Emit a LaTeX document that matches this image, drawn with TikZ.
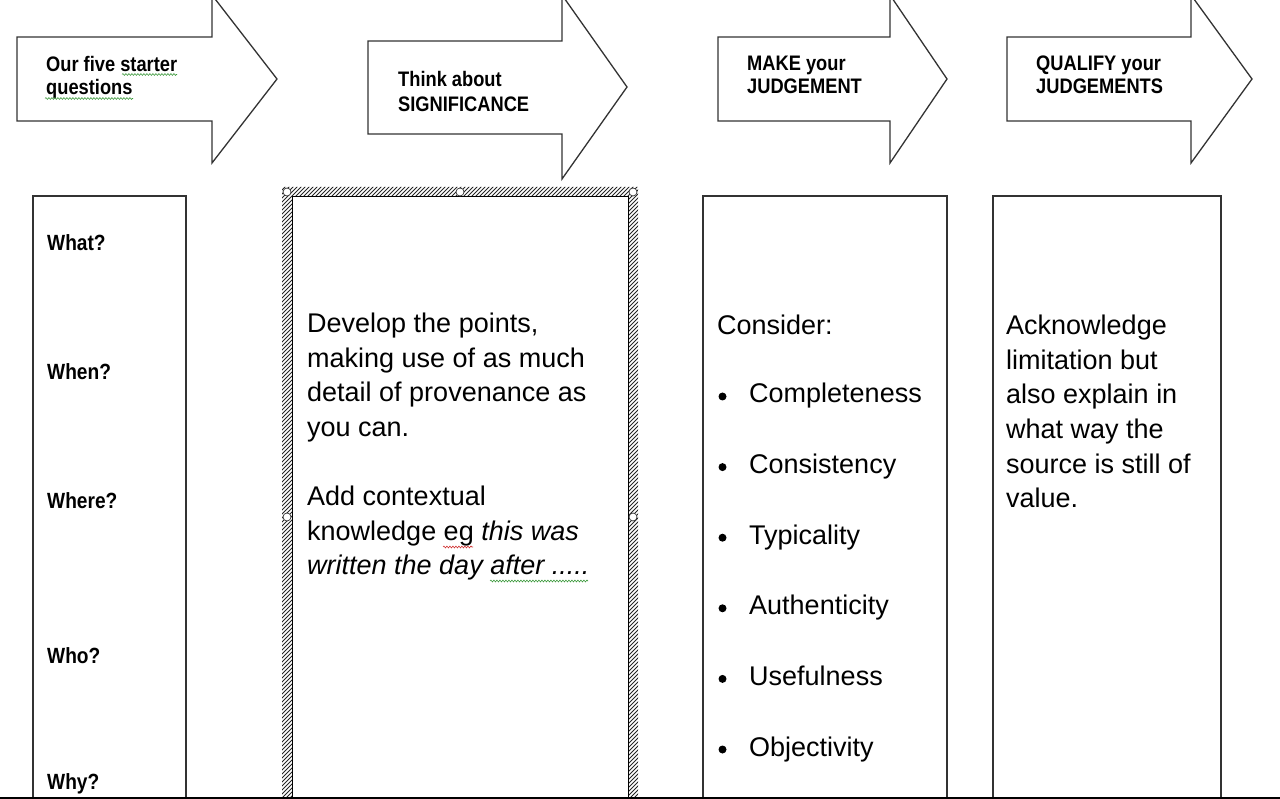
\documentclass[tikz,border=0pt]{standalone}
\usepackage{fontspec}
\setmainfont{Liberation Sans}
\newfontfamily\hdrfont[FakeStretch=0.87]{Liberation Sans}
\usetikzlibrary{decorations.pathmorphing}
\definecolor{lineclr}{HTML}{333333}
\definecolor{squiggreen}{HTML}{3C9A3C}
\definecolor{squigred}{HTML}{D03030}
\begin{document}
\begin{tikzpicture}[x=1pt,y=-1pt,
  shapeline/.style={draw=lineclr, line width=1.3pt, line join=miter},
  hdr/.style={anchor=base west, inner sep=0pt, font=\hdrfont\bfseries\fontsize{21}{24}\selectfont},
  qlabel/.style={anchor=base west, inner sep=0pt, font=\hdrfont\bfseries\fontsize{22}{24}\selectfont},
  body/.style={anchor=base west, inner sep=0pt, font=\fontsize{27}{34.5}\selectfont},
  squig/.style={decorate, decoration={snake, amplitude=0.9pt, segment length=3pt}, line width=0.6pt},
  handle/.style={draw=lineclr, fill=white, line width=0.7pt},
  bulletdot/.style={fill=black},
]
\useasboundingbox[fill=white] (0,0) rectangle (1280,799);

% ---- arrows ----
\draw[shapeline] (17,37) -- (212,37) -- (212,-5) -- (277,79) -- (212,163) -- (212,121) -- (17,121) -- cycle;
\draw[shapeline] (368,41) -- (562,41) -- (562,-5) -- (627,87) -- (562,179) -- (562,134) -- (368,134) -- cycle;
\draw[shapeline] (718,37) -- (890,37) -- (890,-5) -- (947,79) -- (890,163) -- (890,121) -- (718,121) -- cycle;
\draw[shapeline] (1007,37) -- (1191,37) -- (1191,-5) -- (1252,79) -- (1191,163) -- (1191,121) -- (1007,121) -- cycle;

\node[hdr] (a1a) at (46,72) {Our five starter};
\node[hdr] (a1b) at (46,95) {questions};
\node[hdr] (a2a) at (398,87) {Think about};
\node[hdr] (a2b) at (398,112) {SIGNIFICANCE};
\node[hdr] (a3a) at (747,71) {MAKE your};
\node[hdr] (a3b) at (747,94) {JUDGEMENT};
\node[hdr] (a4a) at (1036,71) {QUALIFY your};
\node[hdr] (a4b) at (1036,94) {JUDGEMENTS};

\draw[squig, squiggreen] (122,74.5) -- (177,74.5);
\draw[squig, squiggreen] (45,98.5) -- (133,98.5);

% ---- column boxes ----
\draw[shapeline] (33,820) -- (33,196) -- (186,196) -- (186,820);
\draw[shapeline] (703,820) -- (703,196) -- (947,196) -- (947,820);
\draw[shapeline] (993,820) -- (993,196) -- (1221,196) -- (1221,820);

% hatched selection frame
\begin{scope}[even odd rule]
  \clip (282,187) rectangle (638,820) (292,197) rectangle (628,820);
  \foreach \x in {-360,-356,...,640}
    \draw[black!85, line width=1pt] (\x,820) -- (\x+640,180);
\end{scope}
\draw[black, line width=1pt] (292,820) -- (292,197) -- (628,197) -- (628,820);
\foreach \hx/\hy in {287/192, 460/192, 633/192, 287/517, 633/517}
  \draw[handle] (\hx,\hy) circle[radius=4pt];

% ---- column 1 labels ----
\node[qlabel] (qwhat) at (47,251) {What?};
\node[qlabel] (qwhen) at (47,380) {When?};
\node[qlabel] (qwhere) at (47,508) {Where?};
\node[qlabel] (qwho) at (47,663) {Who?};
\node[qlabel] (qwhy) at (47,789) {Why?};

% ---- column 2 text ----
\node[body] (d1) at (307,333) {Develop the points,};
\node[body] (d2) at (307,367.5) {making use of as much};
\node[body] (d3) at (307,402) {detail of provenance as};
\node[body] (d4) at (307,436.5) {you can.};
\node[body] (d5) at (307,505.5) {Add contextual};
\node[body] (d6) at (307,540) {knowledge eg \textit{this was}};
\node[body] (d7) at (307,574.5) {\textit{written the day after .....}};
\draw[squig, squigred] (443,547) -- (473,547);
\draw[squig, squiggreen] (490,581) -- (588,581);

% ---- column 3 text ----
\node[body] (c0) at (717,335) {Consider:};
\foreach \t [count=\i from 0] in {Completeness,Consistency,Typicality,Authenticity,Usefulness,Objectivity} {
  \node[body] (c\i) at (749,403+70.6*\i) {\t};
  \fill[bulletdot] (722.5,396.5+70.6*\i) circle[radius=4pt];
}

% ---- column 4 text ----
\node[body] (e1) at (1006,335) {Acknowledge};
\node[body] (e2) at (1006,369.5) {limitation but};
\node[body] (e3) at (1006,404) {also explain in};
\node[body] (e4) at (1006,438.5) {what way the};
\node[body] (e5) at (1006,473) {source is still of};
\node[body] (e6) at (1006,507.5) {value.};

% bottom rule
\draw[black, line width=1.6pt] (0,798) -- (1280,798);
\end{tikzpicture}
\end{document}
